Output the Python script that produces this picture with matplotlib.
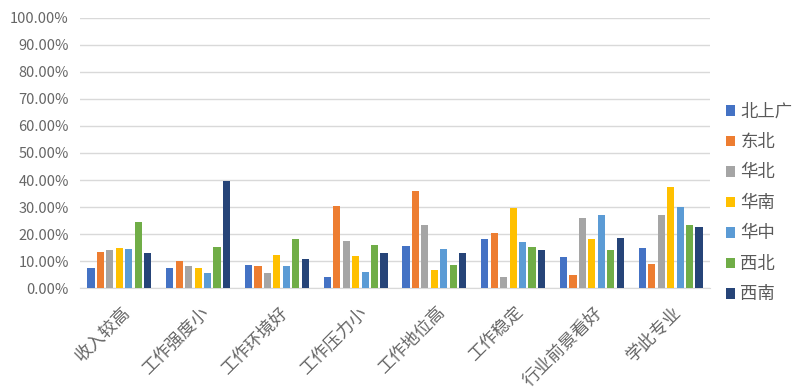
import numpy as np
import matplotlib
matplotlib.use("Agg")
import matplotlib.pyplot as plt
from matplotlib.ticker import FuncFormatter

plt.rcParams['font.family'] = ['Noto Sans CJK SC', 'DejaVu Sans']

# Data
categories = ["收入较高", "工作强度小", "工作环境好", "工作压力小",
              "工作地位高", "工作稳定", "行业前景看好", "学此专业"]
regions = ["北上广", "东北", "华北", "华南", "华中", "西北", "西南"]
beishangguang = [7.5, 7.5, 8.5, 4.2, 15.5, 18.0, 11.5, 15.0]
dongbei = [13.5, 10.0, 8.0, 30.5, 36.0, 20.5, 5.0, 9.0]
huabei = [14.0, 8.0, 5.5, 17.5, 23.5, 4.0, 26.0, 27.0]
huanan = [15.0, 7.5, 12.2, 11.8, 6.8, 29.5, 18.0, 37.5]
huazhong = [14.5, 5.7, 8.3, 6.0, 14.5, 17.0, 27.2, 30.0]
xibei = [24.5, 15.2, 18.2, 16.0, 8.5, 15.2, 14.0, 23.5]
xinan = [13.0, 39.5, 10.8, 13.0, 13.0, 14.0, 18.5, 22.5]
series = [beishangguang, dongbei, huabei, huanan, huazhong, xibei, xinan]
colors = ["#4472C4", "#ED7D31", "#A5A5A5", "#FFC000", "#5B9BD5", "#70AD47", "#264478"]

fig = plt.figure(figsize=(8, 3.91), dpi=100)
ax = fig.add_axes([0.1, 0.2634, 0.7875, 0.6906])

x = np.arange(len(categories))
pitch = 0.12
width = 0.09
for i, (name, vals) in enumerate(zip(regions, series)):
    offs = (i - 3) * pitch
    ax.bar(x + offs, vals, width=width, color=colors[i], label=name, zorder=3)

ax.set_xlim(-0.5, len(categories) - 0.5)
ax.set_ylim(0, 100)
ax.set_yticks(np.arange(0, 101, 10))
ax.yaxis.set_major_formatter(FuncFormatter(lambda v, p: f"{v:.2f}%"))
ax.grid(axis='y', color='#D9D9D9', linewidth=1, zorder=0)
for s in ['top', 'right', 'left']:
    ax.spines[s].set_visible(False)
ax.spines['bottom'].set_color('#D9D9D9')
ax.tick_params(axis='both', length=0, colors='#666666')
ax.tick_params(axis='y', labelsize=10.5, pad=8)
ax.set_xticks(x + 0.02)
ax.set_xticklabels(categories, rotation=45, ha='right', rotation_mode='anchor',
                   fontsize=12.5, color='#666666')
ax.tick_params(axis='x', pad=11)

leg = ax.legend(loc='center left', bbox_to_anchor=(1.0, 0.315), frameon=False,
                fontsize=12.5, handlelength=0.55, handleheight=0.55,
                handletextpad=0.3, labelspacing=0.72, labelcolor='#595959')

fig.savefig("out.png", dpi=100)
